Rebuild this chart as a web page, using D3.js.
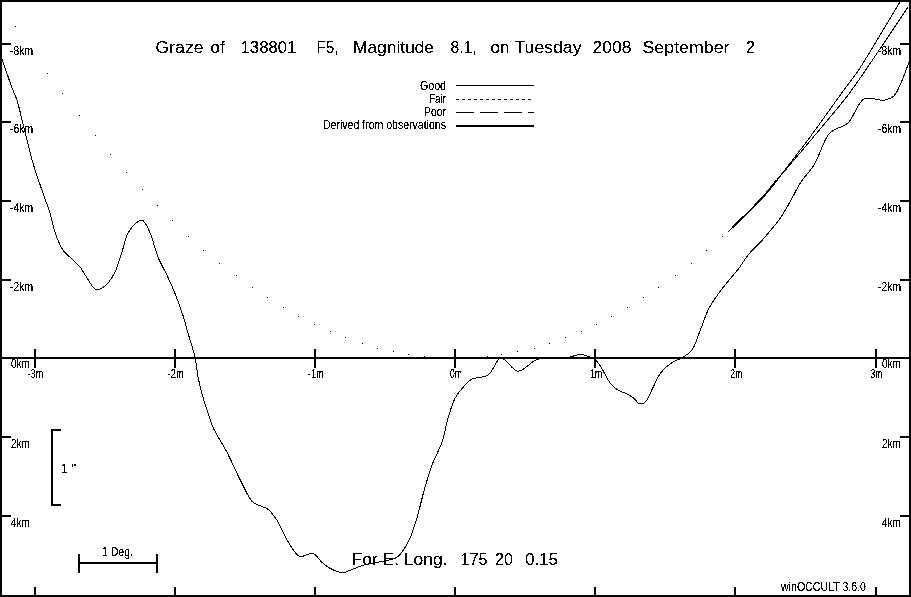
<!DOCTYPE html>
<html lang="en">

<head>
    <meta charset="utf-8">
    <title>Graze profile</title>
    <script src="https://cdn.jsdelivr.net/npm/d3@7"></script>
</head>
<style>
    html, body { margin: 0; padding: 0; background: white; overflow: hidden; }
    svg { display: block; }
    text { font-family: "Liberation Sans", Arial, sans-serif; fill: black; white-space: pre; }
</style>

<body>
    <script>

     // x = minutes of time, y = km (negative is up)
     var xTicks = [-3, -2, -1, 0, 1, 2, 3];
     var yTicks = [-8, -6, -4, -2, 0, 2, 4];

     var titleWords = ["Graze", "of", "138801", "F5,", "Magnitude", "8.1,", "on", "Tuesday", "2008", "September", "2"];
     var longWords = ["For E. Long.", "175", "20", "0.15"];
     var creditText = "winOCCULT 3.6.0";
     var legendNames = ["Good", "Fair", "Poor", "Derived from observations"];

     // lunar limb profile
     var profile = [
         [-3.232, -7.61], [-3.160, -6.87], [-3.125, -6.56], [-3.089, -6.06], [-3.053, -5.55],
         [-3.011, -4.96], [-2.925, -4.05], [-2.889, -3.69], [-2.854, -3.21], [-2.797, -2.75],
         [-2.732, -2.52], [-2.675, -2.32], [-2.625, -2.04], [-2.568, -1.76], [-2.533, -1.76],
         [-2.476, -1.91], [-2.426, -2.19], [-2.376, -2.70], [-2.333, -3.18], [-2.283, -3.41],
         [-2.233, -3.51], [-2.212, -3.44], [-2.169, -3.13], [-2.119, -2.57], [-2.055, -2.11],
         [-1.998, -1.65], [-1.941, -1.09], [-1.905, -0.64], [-1.855, -0.03], [-1.833, 0.48],
         [-1.798, 0.99], [-1.769, 1.32], [-1.726, 1.76], [-1.627, 2.39], [-1.534, 3.08],
         [-1.448, 3.64], [-1.413, 3.72], [-1.334, 3.84], [-1.270, 4.12], [-1.199, 4.61],
         [-1.156, 4.86], [-1.106, 5.04], [-1.013, 4.96], [-0.949, 5.19], [-0.892, 5.34],
         [-0.799, 5.45], [-0.749, 5.39], [-0.663, 5.27], [-0.556, 5.19], [-0.414, 5.06],
         [-0.371, 4.89], [-0.321, 4.58], [-0.271, 4.05], [-0.214, 3.28], [-0.157, 2.65],
         [-0.093, 2.14], [-0.050, 1.53], [0, 1.02], [0.057, 0.74], [0.121, 0.53],
         [0.235, 0.43], [0.321, 0], [0.357, 0.05], [0.449, 0.33], [0.585, 0.03],
         [0.678, 0], [0.820, -0.03], [0.892, -0.10], [0.963, -0.03], [0.999, 0.03],
         [1.034, 0.18], [1.113, 0.66], [1.163, 0.81], [1.234, 0.92], [1.277, 1.02],
         [1.313, 1.15], [1.355, 1.12], [1.413, 0.74], [1.470, 0.36], [1.541, 0.13],
         [1.612, 0], [1.669, -0.13], [1.698, -0.25], [1.755, -0.76], [1.812, -1.27],
         [1.898, -1.73], [2.026, -2.29], [2.090, -2.62], [2.204, -3.05], [2.326, -3.59],
         [2.397, -4.02], [2.468, -4.48], [2.561, -4.91], [2.661, -5.67], [2.704, -5.80],
         [2.804, -5.98], [2.918, -6.59], [3.061, -6.56], [3.132, -6.67], [3.182, -7.00],
         [3.239, -7.53]
     ];

     // star path, "Fair" quality stretch (dots)
     var fairPath = [
         [-3.132, -8.42], [-2.904, -7.25], [-2.797, -6.72], [-2.682, -6.18], [-2.568, -5.67],
         [-2.461, -5.19], [-2.347, -4.73], [-2.233, -4.30], [-2.126, -3.87], [-2.012, -3.49],
         [-1.898, -3.10], [-1.791, -2.75], [-1.677, -2.42], [-1.562, -2.11], [-1.448, -1.81],
         [-1.341, -1.55], [-1.227, -1.30], [-1.113, -1.07], [-0.999, -0.87], [-0.885, -0.69],
         [-0.778, -0.53], [-0.663, -0.38], [-0.556, -0.25], [-0.442, -0.18], [-0.335, -0.10],
         [-0.221, -0.05], [0.235, -0.05], [0.335, -0.10], [0.449, -0.18], [0.564, -0.25],
         [0.671, -0.38], [0.785, -0.53], [0.899, -0.69], [1.013, -0.87], [1.120, -1.07],
         [1.234, -1.30], [1.348, -1.55], [1.455, -1.81], [1.570, -2.11], [1.684, -2.42],
         [1.791, -2.75], [1.905, -3.10]
     ];

     var goodUpper = [[1.948, -3.21], [2.190, -4.07], [2.297, -4.53], [2.518, -5.55], [2.775, -6.82], [2.875, -7.30], [3.025, -8.17], [3.175, -9.06]];
     var goodLower = [[1.948, -3.21], [2.190, -4.07], [2.297, -4.53], [2.540, -5.55], [2.804, -6.69], [2.925, -7.30], [3.232, -8.93]];
     var derived = [[1.983, -3.33], [2.190, -4.07], [2.297, -4.53]];

     var width = 911, height = 597;

     var x = d3.scaleLinear().domain([-3, 3]).range([34.5, 875.5]);
     var y = d3.scaleLinear().domain([-8, 4]).range([43.5, 515.6]);

     var svg = d3.select("body").append("svg")
                 .attr("width", width)
                 .attr("height", height)
                 .attr("shape-rendering", "crispEdges");

     // hard threshold, the original has no text smoothing
     var filter = svg.append("defs").append("filter")
                     .attr("id", "hard")
                     .attr("color-interpolation-filters", "sRGB");
     filter.append("feComponentTransfer").append("feFuncA")
           .attr("type", "discrete")
           .attr("tableValues", "0 0 1 1 1");

     var lineFunction = d3.line()
                          .x(function(d) { return x(d[0]); })
                          .y(function(d) { return y(d[1]); })
                          .curve(d3.curveCatmullRom.alpha(0.5));

     function drawLine(data, w) {
         svg.append("path")
            .attr("d", lineFunction(data))
            .attr("fill", "none")
            .attr("stroke", "black")
            .attr("stroke-width", w);
     }

     function label(px, py, str, size, anchor, len) {
         var t = textLayer.append("text")
                          .attr("x", px)
                          .attr("y", py)
                          .attr("font-size", size)
                          .attr("text-anchor", anchor)
                          .text(str);
         if (len) t.attr("textLength", len).attr("lengthAdjust", "spacingAndGlyphs");
         return t;
     }

     // frame
     svg.append("rect")
        .attr("x", 1).attr("y", 1)
        .attr("width", width - 2).attr("height", height - 2)
        .attr("fill", "none").attr("stroke", "black").attr("stroke-width", 2);

     // zero line
     svg.append("line")
        .attr("x1", 0).attr("x2", width)
        .attr("y1", y(0)).attr("y2", y(0))
        .attr("stroke", "black").attr("stroke-width", 2);

     // axes, the domain path is replaced by the frame
     function styleAxis(g) {
         g.select(".domain").remove();
         g.selectAll(".tick line").attr("stroke", "black").attr("stroke-width", 2);
         g.selectAll(".tick text").remove();
     }

     svg.append("g").attr("transform", "translate(0," + y(0) + ")")
        .call(d3.axisBottom(x).tickValues(xTicks).tickSize(10).offset(0))
        .call(styleAxis)
        .selectAll(".tick line").attr("y1", -9);

     svg.append("g").attr("transform", "translate(0,596)")
        .call(d3.axisTop(x).tickValues(xTicks).tickSize(9).offset(0))
        .call(styleAxis);

     var yNoZero = yTicks.filter(function(d) { return d !== 0; });

     svg.append("g").attr("transform", "translate(2,0)")
        .call(d3.axisRight(y).tickValues(yNoZero).tickSize(9).offset(0))
        .call(styleAxis);

     svg.append("g").attr("transform", "translate(909,0)")
        .call(d3.axisLeft(y).tickValues(yNoZero).tickSize(9).offset(0))
        .call(styleAxis);

     // curves
     drawLine(profile, 1);
     drawLine(goodUpper, 1);
     drawLine(goodLower, 1);
     drawLine(derived, 2);

     svg.append("g").selectAll("rect")
        .data(fairPath)
        .enter().append("rect")
        .attr("x", function(d) { return Math.floor(x(d[0])); })
        .attr("y", function(d) { return Math.floor(y(d[1])); })
        .attr("width", 1)
        .attr("height", 1)
        .attr("fill", "black");

     // legend samples
     var legendY = [85.5, 99.5, 112.5, 125.5];
     var legendDash = [null, "3,3", "18,6", null];
     var legendWidth = [1, 1, 1, 2];
     svg.append("g").selectAll("line")
        .data(legendNames)
        .enter().append("line")
        .attr("x1", 456).attr("x2", 534)
        .attr("y1", function(d, i) { return legendY[i]; })
        .attr("y2", function(d, i) { return legendY[i]; })
        .attr("stroke", "black")
        .attr("stroke-width", function(d, i) { return legendWidth[i]; })
        .attr("stroke-dasharray", function(d, i) { return legendDash[i]; });

     // scale brackets, 1 arcsec and 1 degree
     svg.append("path")
        .attr("d", "M61," + y(1.83) + "H51.5V" + y(3.74) + "H61")
        .attr("fill", "none").attr("stroke", "black").attr("stroke-width", 2);
     svg.append("path")
        .attr("d", "M" + x(-2.68) + ",563H" + x(-2.125) + "M" + x(-2.68) + ",554V573M" + x(-2.125) + ",554V573")
        .attr("fill", "none").attr("stroke", "black").attr("stroke-width", 2);

     // all text
     var textLayer = svg.append("g").attr("filter", "url(#hard)");

     var titleX = [155.5, 210, 240.5, 316.5, 353, 450.5, 490.5, 514.5, 592.5, 642.5, 746];
     var titleLen = [48, 15, 56, 22, 81, 26, 19, 67, 39, 87, 9];
     titleWords.forEach(function(w, i) { label(titleX[i], 53, w, 16, "start", titleLen[i]); });

     var longX = [351.5, 460.5, 495, 525];
     var longLen = [96, 27, 18, 33];
     longWords.forEach(function(w, i) { label(longX[i], 565, w, 16, "start", longLen[i]); });

     label(781, 591, creditText, 12, "start", 85);

     var legendBase = [90, 103, 116, 129];
     var legendLen = [26, 17, 22, 123];
     legendNames.forEach(function(n, i) {
         label(446, legendBase[i], n, 12, "end", legendLen[i]);
     });

     xTicks.forEach(function(d) {
         label(x(d) + 1, 378, d + "m", 12, "middle", d < 0 ? 16 : 12);
     });

     yTicks.forEach(function(d) {
         var s = d + "km";
         var len = d < 0 ? 23 : 19;
         var base = d === 0 ? 368 : y(d) + 11;
         label(d < 0 ? 10 : 11, base, s, 12, "start", len);
         label(901, base, s, 12, "end", len);
     });

     label(61, 473, "1 ''", 12, "start", 15);
     label(102, 556, "1 Deg.", 12, "start", 31);

    </script>
</body>

</html>
